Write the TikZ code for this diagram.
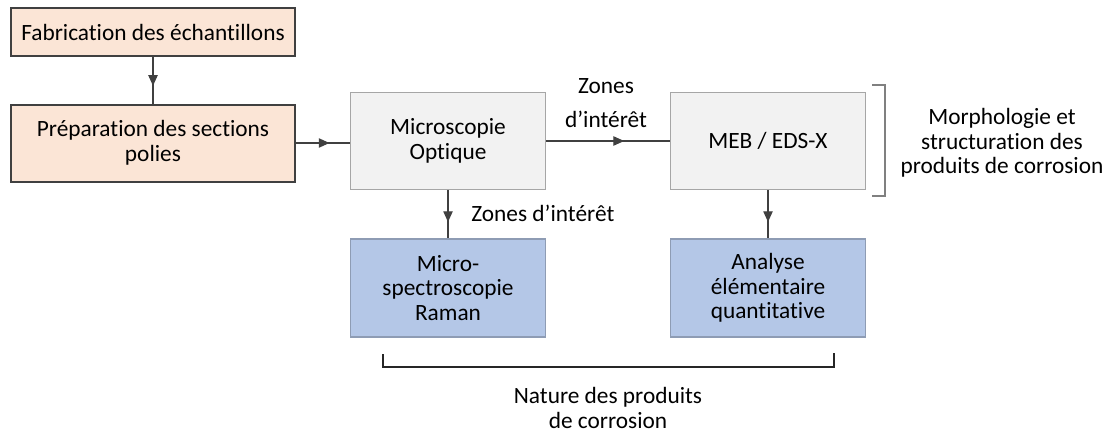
\documentclass[tikz,border=0pt]{standalone}
\usepackage{fontspec}
\setmainfont{Carlito}[Ligatures=NoCommon]
\usetikzlibrary{arrows.meta,positioning,decorations.markings}

\definecolor{peach}{HTML}{FBE5D6}
\definecolor{lightgrey}{HTML}{F2F2F2}
\definecolor{paleblue}{HTML}{B4C7E7}
\definecolor{darkline}{HTML}{404040}
\definecolor{blueedge}{HTML}{8E9CB4}

\tikzset{
  txt/.style={font=\fontsize{17.5}{18.5}\selectfont, align=center, inner sep=0pt},
  prepbox/.style={txt, fill=peach, draw=darkline, line width=1.5pt, minimum width=213pt},
  analysisbox/.style={txt, fill=lightgrey, draw=gray!70, line width=1pt, minimum width=146pt, minimum height=73pt},
  resultbox/.style={txt, fill=paleblue, draw=blueedge, line width=1pt, minimum width=146pt, minimum height=73.5pt},
  midarrow/.style={darkline, line width=0.8pt, postaction={decorate},
    decoration={markings, mark=at position #1 with {\arrow{Triangle[length=8pt,width=7pt]}}}},
  midarrow/.default=0.62,
  bracket/.style={line width=0.8pt}
}

\begin{document}
\begin{tikzpicture}[x=0.75pt, y=-0.75pt]
    \useasboundingbox (0,0) rectangle (1112,432);

    % Sample preparation
    \node[prepbox, minimum height=36pt] (fab) at (153,32) {Fabrication des échantillons};
    \node[prepbox, minimum height=57.75pt] (prep) at (153,143) {Préparation des sections\\polies};

    % Observation
    \node[analysisbox] (micro) at (448,141) {Microscopie\\Optique};
    \node[analysisbox] (meb) at (768,141) {MEB / EDS-X};

    % Characterisation
    \node[resultbox] (raman) at (448,288) {Micro-\\spectroscopie\\Raman};
    \node[resultbox] (analyse) at (768,288) {Analyse\\élémentaire\\quantitative};

    % Links
    \draw[midarrow] (fab.south) -- (prep.north);
    \draw[midarrow] (prep.east) -- (prep.east -| micro.west);
    \draw[midarrow=0.63] (micro.east) -- (micro.east -| meb.west);
    \draw[midarrow=0.66] (micro.south) -- (raman.north);
    \draw[midarrow=0.66] (meb.south) -- (analyse.north);

    \node[txt] (zones) at (606,103) {Zones\\[7.5pt]d’intérêt};
    \node[txt, anchor=west] (zonesdown) at (471,213) {Zones d’intérêt};

    % Brackets
    \draw[bracket, gray] (872,85) -- (885,85) -- (885,196) -- (872,196);
    \node[txt] (morpho) at (1002,143) {Morphologie et\\structuration des\\produits de corrosion};

    \draw[bracket, black!85] (383,354) -- (383,367) -- (834,367) -- (834,353);
    \node[txt] (nature) at (608,408) {Nature des produits\\de corrosion};
\end{tikzpicture}
\end{document}
